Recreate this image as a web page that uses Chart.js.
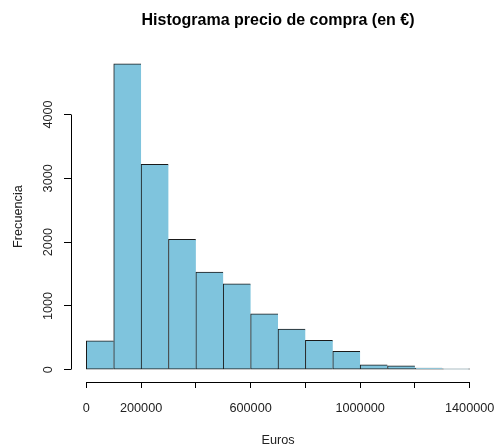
<!DOCTYPE html>
<html>
<head>
<meta charset="utf-8">
<script src="https://cdn.jsdelivr.net/npm/chart.js@4/dist/chart.umd.min.js"></script>
<style>
  html, body { margin: 0; padding: 0; background: #fff; }
  #wrap { width: 497px; height: 445px; }
</style>
</head>
<body>
<div id="wrap"><canvas id="hist"></canvas></div>
<script>
// histogram bins (Euros), width 100000
var binStart = [0, 100000, 200000, 300000, 400000, 500000, 600000, 700000, 800000, 900000, 1000000, 1100000, 1200000, 1300000];
var binWidth = 100000;
var counts = [455, 4795, 3220, 2045, 1532, 1346, 877, 638, 460, 288, 78, 63, 25, 4];

// axis ticks like R (some labels dropped because they overlap)
var xTicks = [0, 200000, 400000, 600000, 800000, 1000000, 1200000, 1400000];
var xTickLabels = ['0', '200000', '', '600000', '', '1000000', '', '1400000'];
var yTicks = [0, 1000, 2000, 3000, 4000];

var barData = binStart.map(function (s, i) {
  return { x: s + binWidth / 2, y: counts[i] };
});

var fontFamily = 'Liberation Sans, Arial, sans-serif';

function alignPx(p) {
  return Math.round(p - 0.5) + 0.5;
}

// R draws the axis line only from the first to the last tick
var axisLines = {
  id: 'axisLines',
  afterDraw: function (chart) {
    var ctx = chart.ctx;
    var xs = chart.scales.x, ys = chart.scales.y;
    var area = chart.chartArea;
    ctx.save();
    ctx.strokeStyle = '#000';
    ctx.lineWidth = 1;
    ctx.beginPath();
    var yb = alignPx(area.bottom);
    ctx.moveTo(alignPx(xs.getPixelForValue(xTicks[0])), yb);
    ctx.lineTo(alignPx(xs.getPixelForValue(xTicks[xTicks.length - 1])), yb);
    var xl = alignPx(area.left);
    ctx.moveTo(xl, alignPx(ys.getPixelForValue(yTicks[0])));
    ctx.lineTo(xl, alignPx(ys.getPixelForValue(yTicks[yTicks.length - 1])));
    ctx.stroke();
    ctx.restore();
  }
};

var ctx = document.getElementById('hist');
var chart = new Chart(ctx, {
  type: 'bar',
  data: {
    datasets: [{
      data: barData,
      backgroundColor: '#7fc4dd',
      borderColor: '#1a1a1a',
      borderWidth: function (c) {
        var last = c.dataIndex === counts.length - 1;
        return { top: 1, left: 1, bottom: 1, right: last ? 1 : 0 };
      },
      borderSkipped: false,
      minBarLength: 1,
      barPercentage: 1,
      categoryPercentage: 1
    }]
  },
  options: {
    responsive: true,
    maintainAspectRatio: false,
    animation: false,
    events: [],
    layout: { padding: { top: 0, right: 12, bottom: 0, left: 0 } },
    plugins: {
      legend: { display: false },
      tooltip: { enabled: false },
      title: {
        display: true,
        fullSize: false,
        text: 'Histograma precio de compra (en €)',
        color: '#000',
        font: { family: fontFamily, size: 16, weight: 'bold' },
        padding: { top: 11, bottom: 21 }
      }
    },
    scales: {
      x: {
        type: 'linear',
        offset: false,
        min: -56000,
        max: 1456000,
        afterBuildTicks: function (scale) {
          scale.ticks = xTicks.map(function (v) { return { value: v }; });
        },
        afterFit: function (scale) {
          scale.height = 63;
          scale.paddingLeft = 0;
          scale.paddingRight = 0;
        },
        grid: { offset: false, drawOnChartArea: false, drawTicks: true, tickLength: 6, color: '#000' },
        border: { display: false },
        ticks: {
          autoSkip: false,
          maxRotation: 0,
          padding: 13,
          color: '#222',
          font: { family: fontFamily, size: 12.7 },
          callback: function (v, i) { return xTickLabels[i]; }
        },
        title: {
          display: true,
          text: 'Euros',
          color: '#222',
          font: { family: fontFamily, size: 12.7 },
          padding: { top: 0, bottom: -3 }
        }
      },
      y: {
        min: -192,
        max: 4992,
        afterBuildTicks: function (scale) {
          scale.ticks = yTicks.map(function (v) { return { value: v }; });
        },
        afterFit: function (scale) {
          scale.width = 71;
          scale.paddingTop = 0;
          scale.paddingBottom = 0;
        },
        grid: { offset: false, drawOnChartArea: false, drawTicks: true, tickLength: 7, color: '#000' },
        border: { display: false },
        ticks: {
          minRotation: 90,
          maxRotation: 90,
          crossAlign: 'center',
          padding: 1,
          color: '#222',
          font: { family: fontFamily, size: 12.7 },
          callback: function (v) { return String(v); }
        },
        title: {
          display: true,
          text: 'Frecuencia',
          color: '#222',
          font: { family: fontFamily, size: 12.7 },
          padding: { top: 11, bottom: 0 }
        }
      }
    }
  },
  plugins: [axisLines]
});
</script>
</body>
</html>
